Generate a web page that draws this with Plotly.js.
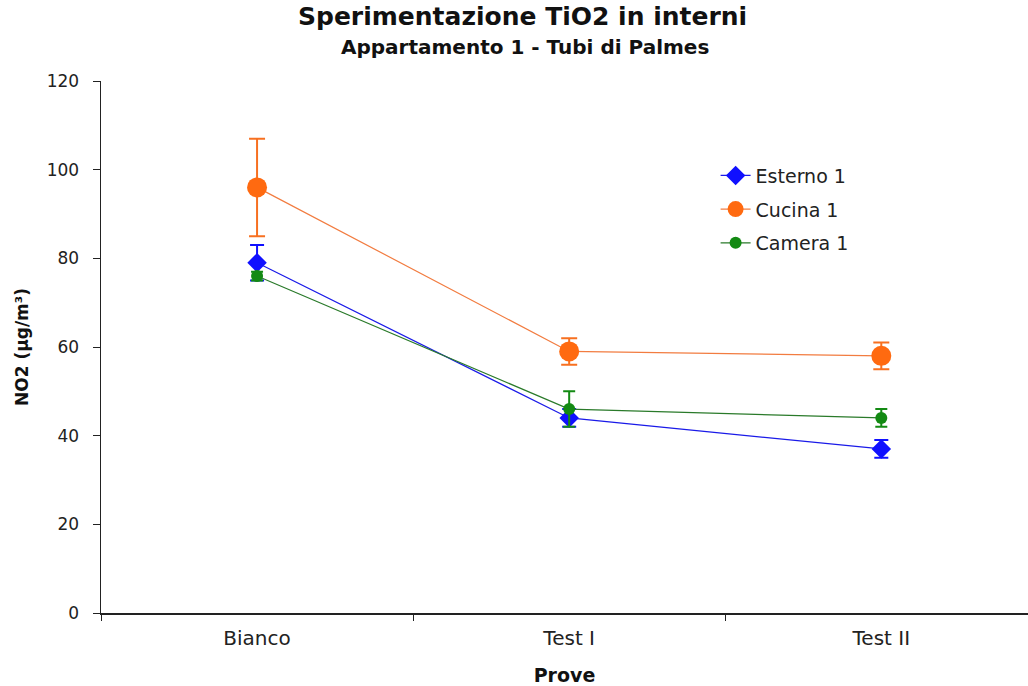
<!DOCTYPE html>
<html>
<head>
<meta charset="utf-8">
<script src="https://cdn.plot.ly/plotly-3.0.1.min.js"></script>
<style>html,body{margin:0;padding:0;background:#fff;}#chart{width:1028px;height:686px;}</style>
</head>
<body>
<div id="chart"></div>
<script>
const categories = ["Bianco", "Test I", "Test II"];
const esterno = [79, 44, 37];
const esternoErr = [4, 2, 2];
const cucina = [96, 59, 58];
const cucinaErr = [11, 3, 3];
const camera = [76, 46, 44];
const cameraErr = [1, 4, 2];

const font = "'DejaVu Sans', Arial, sans-serif";

const traces = [
  {
    name: "Esterno 1", legendgroup: "a", x: categories, y: esterno, type: "scatter", mode: "lines+markers",
    line: {color: "#1a1ae8", width: 1.2},
    marker: {symbol: "diamond", size: 15, color: "#1010ff"},
    error_y: {type: "data", array: esternoErr, visible: true, color: "#1010ff", thickness: 2, width: 7}
  },
  {
    name: "Cucina 1", legendgroup: "b", x: categories, y: cucina, type: "scatter", mode: "lines+markers",
    line: {color: "#f27c40", width: 1.2},
    marker: {symbol: "circle", size: 20, color: "#ff6a10"},
    error_y: {type: "data", array: cucinaErr, visible: true, color: "#f77020", thickness: 2, width: 8}
  },
  {
    name: "Camera 1", legendgroup: "c", x: categories, y: camera, type: "scatter", mode: "lines+markers",
    line: {color: "#2a7a2a", width: 1.2},
    marker: {symbol: "circle", size: 12, color: "#138a13"},
    error_y: {type: "data", array: cameraErr, visible: true, color: "#138a13", thickness: 2, width: 6}
  }
];

const layout = {
  width: 1028, height: 686,
  margin: {l: 101, r: 0, t: 81, b: 73},
  paper_bgcolor: "#fff", plot_bgcolor: "#fff",
  font: {family: font, color: "#222"},
  showlegend: true,
  legend: {x: 0.663, y: 0.858, xanchor: "left", yanchor: "top", bgcolor: "rgba(0,0,0,0)",
           font: {size: 19, color: "#222", family: font}, tracegroupgap: 6},
  xaxis: {
    type: "category", range: [-0.5, 2.47],
    showline: true, linecolor: "#222", linewidth: 1.5,
    showgrid: false, zeroline: false,
    tickson: "boundaries", ticks: "outside", ticklen: 6, tickcolor: "#222",
    ticklabelstandoff: 6,
    tickfont: {size: 20, color: "#222", family: font},
    title: {text: "<b>Prove</b>", font: {size: 19, color: "#111", family: font}, standoff: 20}
  },
  yaxis: {
    range: [0, 120], dtick: 20, tick0: 0,
    showline: true, linecolor: "#222", linewidth: 1.5,
    showgrid: false, zeroline: false,
    ticks: "outside", ticklen: 7, tickcolor: "#222",
    ticklabelstandoff: 10,
    tickfont: {size: 17, color: "#222", family: font},
    title: {text: "<b>NO2 (µg/m³)</b>", font: {size: 17, color: "#111", family: font}, standoff: 13}
  },
  annotations: [
    {text: "<b>Sperimentazione TiO2 in interni</b>", xref: "paper", yref: "paper",
     x: 0.455, y: 1.121, xanchor: "center", yanchor: "middle", showarrow: false,
     font: {size: 25, color: "#111", family: font}},
    {text: "<b>Appartamento 1 - Tubi di Palmes</b>", xref: "paper", yref: "paper",
     x: 0.457, y: 1.064, xanchor: "center", yanchor: "middle", showarrow: false,
     font: {size: 20, color: "#111", family: font}}
  ]
};

Plotly.newPlot("chart", traces, layout, {displayModeBar: false, staticPlot: true});
</script>
</body>
</html>
